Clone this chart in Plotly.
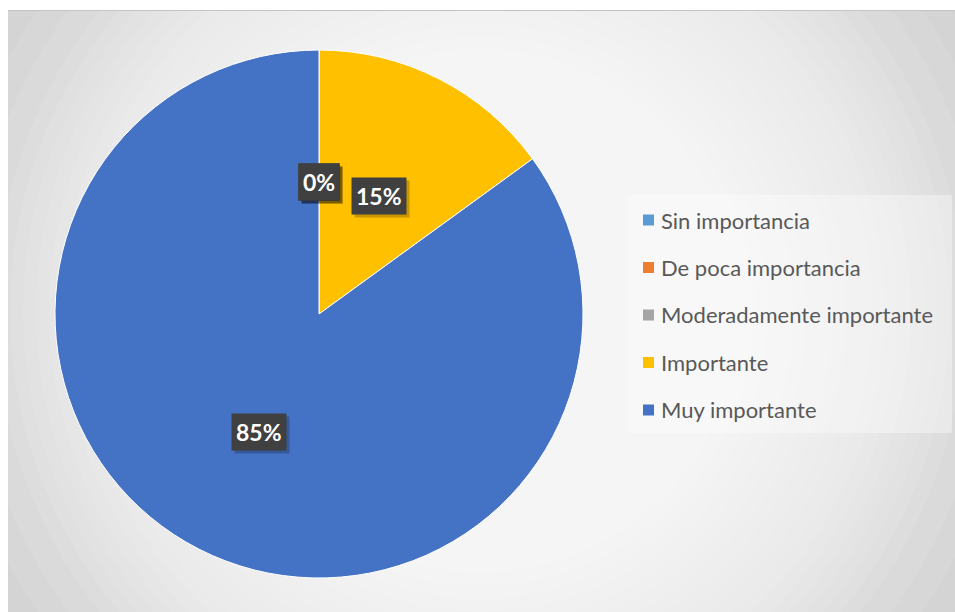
import math
import plotly.graph_objects as go

# Survey answers and their shares (percent)
categories = ["Sin importancia", "De poca importancia", "Moderadamente importante",
              "Importante", "Muy importante"]
values = [0, 0, 0, 15, 85]
colors = ["#5B9BD5", "#ED7D31", "#A5A5A5", "#FFC000", "#4472C4"]

W, H = 955, 612


def px(x):
    return x / W


def py(y):
    return 1 - y / H


# pie placement in pixels
CX, CY, R = 319, 314, 264

fig = go.Figure()
fig.add_trace(go.Pie(
    labels=categories,
    values=values,
    marker=dict(colors=colors, line=dict(color="white", width=1)),
    sort=False,
    direction="clockwise",
    rotation=0,
    textinfo="none",
    hoverinfo="label+percent",
    showlegend=False,
    domain=dict(x=[px(CX - R), px(CX + R)], y=[py(CY + R), py(CY - R)]),
))

shapes = []
# chart area base colour
shapes.append(dict(type="rect", xref="paper", yref="paper", layer="below",
                   x0=px(8), x1=px(W), y0=py(H), y1=py(10),
                   fillcolor="#cccccc", line=dict(width=0)))
# radial light gradient built from stacked translucent discs
GX, GY = 480, 311
radii = [585, 560, 535, 510, 485] + [470 - 13 * k for k in range(22)]
for r in radii:
    shapes.append(dict(type="circle", xref="paper", yref="paper", layer="below",
                       x0=px(GX - r), x1=px(GX + r), y0=py(GY + r), y1=py(GY - r),
                       fillcolor="rgba(255,255,255,0.09)", line=dict(width=0)))
# white page margins around the chart area
shapes.append(dict(type="rect", xref="paper", yref="paper", layer="below",
                   x0=0, x1=1, y0=py(10), y1=1.05,
                   fillcolor="white", line=dict(width=0)))
shapes.append(dict(type="rect", xref="paper", yref="paper", layer="below",
                   x0=-0.05, x1=px(8), y0=-0.05, y1=1.05,
                   fillcolor="white", line=dict(width=0)))
shapes.append(dict(type="line", xref="paper", yref="paper", layer="below",
                   x0=px(8), x1=1, y0=py(10.5), y1=py(10.5),
                   line=dict(color="#c4c4c4", width=1)))
# legend panel
shapes.append(dict(type="rect", xref="paper", yref="paper", layer="below",
                   x0=px(628), x1=px(952), y0=py(433), y1=py(195),
                   fillcolor="rgba(255,255,255,0.35)", line=dict(width=0)))

annotations = []
# legend entries
LEG_Y0, LEG_DY = 220, 47.5
for i, (name, col) in enumerate(zip(categories, colors)):
    yc = LEG_Y0 + i * LEG_DY
    shapes.append(dict(type="rect", xref="paper", yref="paper", layer="above",
                       x0=px(643), x1=px(654), y0=py(yc + 5.5), y1=py(yc - 5.5),
                       fillcolor=col, line=dict(width=0)))
    annotations.append(dict(xref="paper", yref="paper", x=px(659), y=py(yc),
                            xanchor="left", yanchor="middle", showarrow=False,
                            text=name, font=dict(family="Lato", size=22, color="#595959")))

# percentage data label for every slice, halfway along the slice bisector,
# each with a soft drop shadow behind its dark box
total = sum(values)
cum = 0
RL = 0.5 * R
for v in values:
    mid = (cum + v / 2) / total
    cum += v
    th = 2 * math.pi * mid
    lx = CX + RL * math.sin(th)
    ly = CY - RL * math.cos(th)
    label = f"<b>{round(100 * v / total)}%</b>"
    common = dict(xref="paper", yref="paper", x=px(lx), y=py(ly),
                  xanchor="center", yanchor="middle", showarrow=False, borderpad=4)
    annotations.append(dict(**common, text=label, xshift=3, yshift=-3,
                            font=dict(family="Lato", size=23, color="rgba(0,0,0,0)"),
                            bgcolor="rgba(0,0,0,0.22)"))
    annotations.append(dict(**common, text=label,
                            font=dict(family="Lato", size=23, color="white"),
                            bgcolor="#404040"))

fig.update_layout(
    width=W, height=H,
    margin=dict(l=0, r=0, t=0, b=0),
    paper_bgcolor="white",
    plot_bgcolor="white",
    shapes=shapes,
    annotations=annotations,
    showlegend=False,
)

fig.write_html("out.html")
